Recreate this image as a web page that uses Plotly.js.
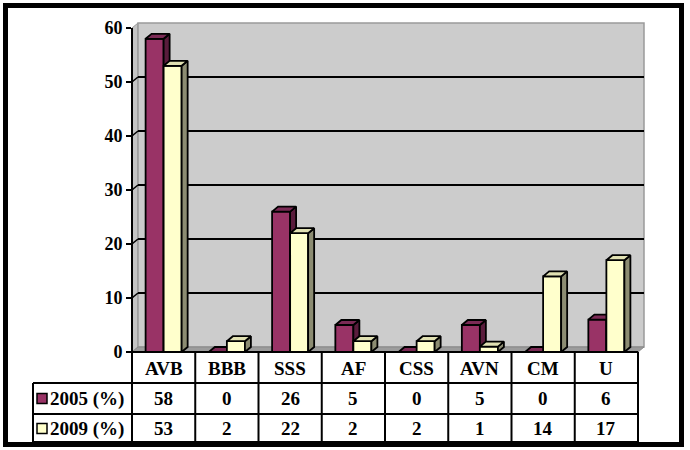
<!DOCTYPE html>
<html><head><meta charset="utf-8">
<script src="https://cdn.plot.ly/plotly-3.0.1.min.js"></script>
<style>html,body{margin:0;padding:0;background:#fff}</style>
</head><body><div id="chart" style="width:690px;height:450px"></div>
<script>
// ---- data ----
const categories = ['AVB','BBB','SSS','AF','CSS','AVN','CM','U'];
const seriesNames = ['2005 (%)','2009 (%)'];
const values2005 = [58,0,26,5,0,5,0,6];
const values2009 = [53,2,22,2,2,1,14,17];
const yTicks = [0,10,20,30,40,50,60];
const gridValues = [10,20,30,40,50];

// ---- styling / geometry ----
const W = 690, H = 450;
const FONT = 'Liberation Serif, Times New Roman, serif';
const X0 = 132, COLW = 63.25, Y0 = 352, PPU = 5.4;
const DX = 6 / COLW, DY = 5 / PPU;   // 3D depth in data units
const BW = 0.285;                      // bar width in category units
const n = categories.length;
const xr = [-0.5, n - 0.5 + DX + 0.03];
const yr = [0, 61.6];
const xdom = [X0 / W, (X0 + (xr[1] - xr[0]) * COLW) / W];
const ydom = [(H - Y0) / H, (H - (Y0 - yr[1] * PPU)) / H];
const px = x => x / W, py = y => 1 - y / H;
const OUT = 1.8;

const series = [
  {name: seriesNames[0], vals: values2005, front: '#993366', top: '#7b2a55', side: '#5a1c3c', xa: 'x', ya: 'y', s: 0},
  {name: seriesNames[1], vals: values2009, front: '#FFFFCC', top: '#e0e0b2', side: '#8c8c72', xa: 'x2', ya: 'y2', s: 1}
];

const traces = [];
series.forEach(sr => {
  const idx = categories.map((c, i) => i);
  traces.push({
    type: 'bar', x: idx, y: sr.vals, offset: -BW + sr.s * BW, width: BW,
    marker: {color: sr.front, line: {color: '#000', width: OUT}},
    xaxis: sr.xa, yaxis: sr.ya, hoverinfo: 'skip', showlegend: false, name: sr.name
  });
  const sx = [], sy = [], tx = [], ty = [];
  sr.vals.forEach((v, i) => {
    const xl = i - BW + sr.s * BW, xR = xl + BW;
    sx.push(xR, xR, xR + DX, xR + DX, xR, null);
    sy.push(0, v, v + DY, DY, 0, null);
    tx.push(xl, xR, xR + DX, xl + DX, xl, null);
    ty.push(v, v, v + DY, v + DY, v, null);
  });
  traces.push({type: 'scatter', mode: 'lines', x: sx, y: sy, fill: 'toself', fillcolor: sr.side,
    line: {color: '#000', width: OUT}, xaxis: sr.xa, yaxis: sr.ya, hoverinfo: 'skip', showlegend: false});
  traces.push({type: 'scatter', mode: 'lines', x: tx, y: ty, fill: 'toself', fillcolor: sr.top,
    line: {color: '#000', width: OUT}, xaxis: sr.xa, yaxis: sr.ya, hoverinfo: 'skip', showlegend: false});
});

const shapes = [];
// walls and floor
shapes.push({type: 'path', xref: 'x', yref: 'y', layer: 'below',
  path: `M${-0.5},0 L${-0.5},60 L${-0.5 + DX},${60 + DY} L${-0.5 + DX},${DY} Z`,
  fillcolor: '#c4c4c4', line: {color: '#999', width: 1}});
shapes.push({type: 'rect', xref: 'x', yref: 'y', layer: 'below',
  x0: -0.5 + DX, x1: n - 0.5 + DX, y0: DY, y1: 60 + DY,
  fillcolor: '#cccccc', line: {color: '#9a9a9a', width: 1.5}});
shapes.push({type: 'path', xref: 'x', yref: 'y', layer: 'below',
  path: `M${-0.5},0 L${n - 0.5},0 L${n - 0.5 + DX},${DY} L${-0.5 + DX},${DY} Z`,
  fillcolor: '#9c9c9c', line: {color: '#888', width: 1}});
gridValues.forEach(v => {
  shapes.push({type: 'line', xref: 'x', yref: 'y', layer: 'below',
    x0: -0.5 + DX, x1: n - 0.5 + DX, y0: v + DY, y1: v + DY, line: {color: '#000', width: 2}});
  shapes.push({type: 'line', xref: 'x', yref: 'y', layer: 'below',
    x0: -0.5, x1: -0.5 + DX, y0: v, y1: v + DY, line: {color: '#000', width: 1.5}});
});
// y axis line
shapes.push({type: 'line', xref: 'paper', yref: 'paper', x0: px(X0), x1: px(X0), y0: py(Y0), y1: py(Y0 - 60 * PPU),
  line: {color: '#000', width: 2}});

// data table
const TL = 33, TR = X0 + COLW * n;
const rowLines = [383, 414, 442];
const rowCenters = [368, 398.5, 428.5];
shapes.push({type: 'line', xref: 'paper', yref: 'paper', x0: px(X0), x1: px(TR), y0: py(Y0), y1: py(Y0), line: {color: '#000', width: 2}});
rowLines.forEach(y => shapes.push({type: 'line', xref: 'paper', yref: 'paper',
  x0: px(TL), x1: px(TR), y0: py(y), y1: py(y), line: {color: '#000', width: 2}}));
shapes.push({type: 'line', xref: 'paper', yref: 'paper', x0: px(TL), x1: px(TL), y0: py(383), y1: py(443), line: {color: '#000', width: 2}});
for (let k = 0; k <= n; k++) {
  const x = X0 + COLW * k;
  shapes.push({type: 'line', xref: 'paper', yref: 'paper', x0: px(x), x1: px(x), y0: py(Y0), y1: py(443), line: {color: '#000', width: 2}});
}
// legend keys
series.forEach((sr, r) => {
  const cy = rowCenters[r + 1];
  shapes.push({type: 'rect', xref: 'paper', yref: 'paper', x0: px(37), x1: px(47), y0: py(cy - 5), y1: py(cy + 5),
    fillcolor: sr.front, line: {color: '#000', width: 1.5}});
});
// outer frame
shapes.push({type: 'rect', xref: 'paper', yref: 'paper', x0: px(5.5), x1: px(681.5), y0: py(5.5), y1: py(444.5),
  line: {color: '#000', width: 5}, fillcolor: 'rgba(0,0,0,0)'});

const annotations = [];
const tfont = {family: FONT, size: 19, color: '#000', weight: 700};
categories.forEach((c, i) => {
  const cx = px(X0 + COLW * (i + 0.5));
  annotations.push({xref: 'paper', yref: 'paper', x: cx, y: py(rowCenters[0]), text: c, showarrow: false, xanchor: 'center', yanchor: 'middle', font: tfont});
  annotations.push({xref: 'paper', yref: 'paper', x: cx, y: py(rowCenters[1]), text: String(values2005[i]), showarrow: false, xanchor: 'center', yanchor: 'middle', font: tfont});
  annotations.push({xref: 'paper', yref: 'paper', x: cx, y: py(rowCenters[2]), text: String(values2009[i]), showarrow: false, xanchor: 'center', yanchor: 'middle', font: tfont});
});
series.forEach((sr, r) => {
  annotations.push({xref: 'paper', yref: 'paper', x: px(48), y: py(rowCenters[r + 1]), text: sr.name, showarrow: false,
    xanchor: 'left', yanchor: 'middle', font: tfont});
});

const layout = {
  width: W, height: H, margin: {l: 0, r: 0, t: 0, b: 0},
  paper_bgcolor: '#fff', plot_bgcolor: 'rgba(0,0,0,0)', showlegend: false,
  xaxis: {domain: xdom, range: xr, visible: false, fixedrange: true},
  yaxis: {domain: ydom, range: yr, tickvals: yTicks, ticks: 'outside', ticklen: 5, tickwidth: 2, tickcolor: '#000',
    showgrid: false, zeroline: false, showline: false, tickfont: {family: FONT, size: 18, color: '#000', weight: 700}, fixedrange: true},
  xaxis2: {overlaying: 'x', anchor: 'y2', range: xr, visible: false, fixedrange: true},
  yaxis2: {overlaying: 'y', anchor: 'x2', range: yr, visible: false, fixedrange: true},
  shapes: shapes, annotations: annotations
};
Plotly.newPlot('chart', traces, layout, {staticPlot: true, displayModeBar: false});
</script></body></html>
